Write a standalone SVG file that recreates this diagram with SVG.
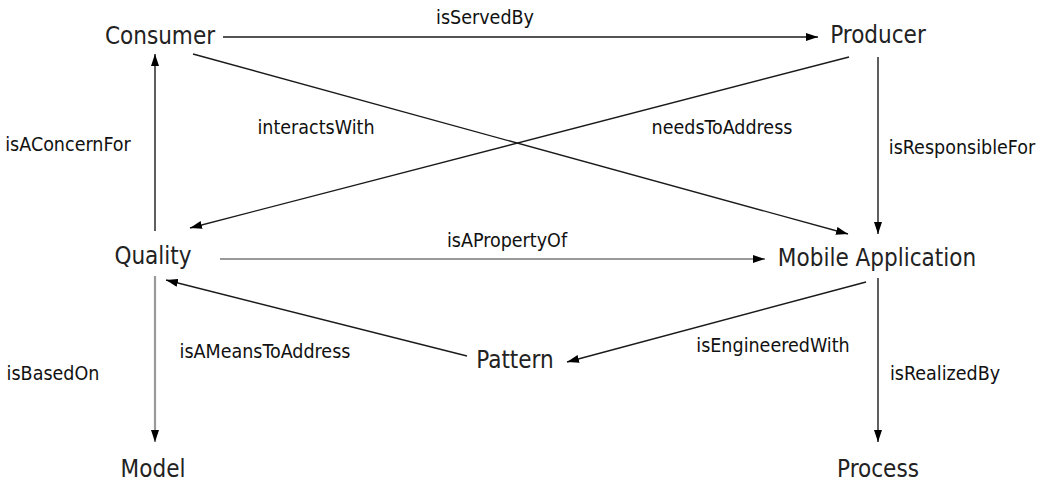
<svg xmlns="http://www.w3.org/2000/svg" width="1050" height="485" viewBox="0 0 1050 485">
<defs>
<style>
.node{font-family:"DejaVu Sans Condensed","DejaVu Sans",Verdana,sans-serif;font-stretch:condensed;font-size:24px;fill:#222;}
.lbl{font-family:"DejaVu Sans Condensed","DejaVu Sans",Verdana,sans-serif;font-stretch:condensed;font-size:19.5px;fill:#111;}
.e{stroke:#1a1a1a;stroke-width:1.4;fill:none;marker-end:url(#ah);}
.g{stroke:#999;stroke-width:2.2;fill:none;marker-end:url(#ah);}
</style>
<marker id="ah" viewBox="0 0 12 8" refX="12" refY="4" markerWidth="12" markerHeight="8" markerUnits="userSpaceOnUse" orient="auto">
<path d="M0,0 L12,4 L0,8 Z" fill="#000"/>
</marker>
</defs>
<rect width="1050" height="485" fill="#fff"/>
<g id="connectors">
<line class="e" x1="223" y1="37" x2="818" y2="37"/>
<line class="e" x1="193" y1="54" x2="848" y2="234"/>
<line class="e" x1="849" y1="57" x2="190" y2="228"/>
<line class="e" x1="878" y1="57" x2="878" y2="234"/>
<line class="e" x1="155" y1="231" x2="155" y2="54"/>
<line class="g" x1="220" y1="259" x2="765" y2="259"/>
<line class="g" x1="155" y1="276" x2="155" y2="442"/>
<line class="e" x1="467" y1="356" x2="166" y2="280"/>
<line class="e" x1="866" y1="282" x2="567" y2="362"/>
<line class="e" x1="878" y1="278" x2="878" y2="442"/>
<text class="lbl" x="485" y="24" text-anchor="middle">isServedBy</text>
<text class="lbl" x="316" y="134" text-anchor="middle">interactsWith</text>
<text class="lbl" x="722" y="134" text-anchor="middle">needsToAddress</text>
<text class="lbl" x="68" y="151" text-anchor="middle">isAConcernFor</text>
<text class="lbl" x="962" y="154" text-anchor="middle">isResponsibleFor</text>
<text class="lbl" x="507" y="247" text-anchor="middle">isAPropertyOf</text>
<text class="lbl" x="265" y="358" text-anchor="middle">isAMeansToAddress</text>
<text class="lbl" x="53" y="380" text-anchor="middle">isBasedOn</text>
<text class="lbl" x="773" y="352" text-anchor="middle">isEngineeredWith</text>
<text class="lbl" x="945" y="380" text-anchor="middle">isRealizedBy</text>
</g>
<g id="consumer"><text class="node" x="160" y="44" text-anchor="middle">Consumer</text></g>
<g id="producer"><text class="node" x="878" y="43" text-anchor="middle">Producer</text></g>
<g id="quality"><text class="node" x="153" y="264" text-anchor="middle">Quality</text></g>
<g id="mobile"><text class="node" x="877" y="266" text-anchor="middle">Mobile Application</text></g>
<g id="pattern"><text class="node" x="515" y="368" text-anchor="middle">Pattern</text></g>
<g id="model"><text class="node" x="153" y="477" text-anchor="middle">Model</text></g>
<g id="process"><text class="node" x="878" y="477" text-anchor="middle">Process</text></g>
</svg>
